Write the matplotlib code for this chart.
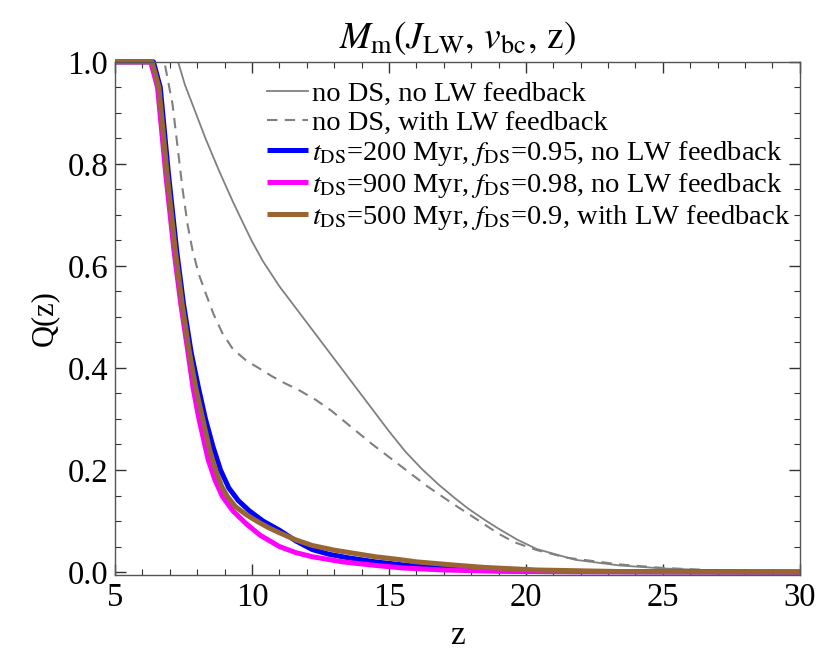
#!/usr/bin/env python3
"""
Q(z) curves for M_m(J_LW, v_bc, z) — with and without dark-star phases
"""

import matplotlib
matplotlib.use('Agg')
import matplotlib.pyplot as plt
from matplotlib.ticker import MultipleLocator, FormatStrFormatter

# ---- font setup (Times-like, like Mathematica) ----
plt.rcParams['font.family'] = ['Liberation Serif', 'DejaVu Serif']
plt.rcParams['mathtext.fontset'] = 'stix'

# ---- data ----
z_nods = [5, 7.3, 7.55, 7.83, 8.3, 8.8, 9.3, 9.7, 10.0, 10.4, 11.0, 12.0,
          13.0, 14.0, 15.0, 15.6, 16.2, 16.8, 17.4, 17.9, 18.5, 19.0, 19.7,
          20.4, 21.8, 23.4, 25, 27, 30]
q_nods = [1, 1, 0.955, 0.916, 0.85, 0.786, 0.726, 0.681, 0.648, 0.609, 0.560,
          0.489, 0.418, 0.347, 0.276, 0.236, 0.202, 0.172, 0.145, 0.124,
          0.102, 0.085, 0.063, 0.045, 0.024, 0.013, 0.007, 0.003, 0.0005]

z_nods_lw = [5, 6.8, 7.1, 7.46, 7.65, 7.83, 8.05, 8.31, 8.6, 8.92, 9.3, 9.8,
             10.3, 10.75, 11.2, 11.7, 12.34, 12.9, 13.4, 14.4, 15.5, 16.4,
             17.3, 18.3, 19.0, 19.6, 20.4, 21.5, 23.4, 25, 27, 30]
q_nods_lw = [1, 1, 0.916, 0.752, 0.68, 0.63, 0.585, 0.546, 0.505, 0.468,
             0.437, 0.414, 0.398, 0.383, 0.370, 0.357, 0.337, 0.316, 0.294,
             0.25, 0.205, 0.168, 0.135, 0.100, 0.075, 0.058, 0.043, 0.028,
             0.015, 0.008, 0.003, 0.0005]

z_blue = [5, 6.4, 6.65, 6.95, 7.25, 7.5, 7.78, 8.05, 8.3, 8.58, 8.85, 9.15,
          9.5, 9.9, 10.4, 11.0, 11.6, 12.2, 12.8, 13.5, 14.5, 15.5, 16.5,
          18, 20, 30]
q_blue = [1, 1, 0.95, 0.78, 0.63, 0.525, 0.43, 0.36, 0.30, 0.245, 0.20,
          0.165, 0.14, 0.12, 0.10, 0.082, 0.061, 0.044, 0.035, 0.028, 0.020,
          0.014, 0.009, 0.004, 0.001, 0]

z_magenta = [5, 6.3, 6.55, 6.85, 7.15, 7.4, 7.65, 7.85, 8.07, 8.4, 8.65,
             8.92, 9.3, 9.78, 10.3, 11.0, 11.6, 12.2, 13.3, 14.5, 15.5, 17,
             19, 22, 30]
q_magenta = [1, 1, 0.95, 0.78, 0.63, 0.525, 0.435, 0.36, 0.298, 0.22, 0.18,
             0.148, 0.12, 0.095, 0.072, 0.05, 0.038, 0.030, 0.02, 0.013, 0.008,
             0.004, 0.0015, 0.0005, 0]

z_brown = [5, 6.35, 6.6, 6.9, 7.2, 7.45, 7.7, 7.95, 8.2, 8.45, 8.7, 8.9, 9.1,
           9.4, 9.8, 10.2, 10.6, 11.0, 11.6, 12.2, 13.0, 13.8, 14.5, 15.3,
           16.0, 17.3, 18.5, 20.4, 23.4, 26, 30]
q_brown = [1, 1, 0.95, 0.78, 0.63, 0.525, 0.435, 0.36, 0.30, 0.24, 0.195,
           0.167, 0.148, 0.128, 0.112, 0.099, 0.087, 0.077, 0.063, 0.052,
           0.043, 0.036, 0.030, 0.025, 0.020, 0.014, 0.009, 0.004, 0.001,
           0.0005, 0]

labels = [
    'no DS, no LW feedback',
    'no DS, with LW feedback',
    r'$t_{\rm DS}$=200 Myr, $f_{\rm DS}$=0.95, no LW feedback',
    r'$t_{\rm DS}$=900 Myr, $f_{\rm DS}$=0.98, no LW feedback',
    r'$t_{\rm DS}$=500 Myr, $f_{\rm DS}$=0.9, with LW feedback',
]

# ---- plot ----
fig = plt.figure(figsize=(8.22, 6.58), dpi=100)
ax = fig.add_axes([0.140, 0.126, 0.833, 0.780])

ax.plot(z_nods, q_nods, color='#808080', lw=1.3, label=labels[0])
ax.plot(z_nods_lw, q_nods_lw, color='#808080', lw=1.5, dashes=(5, 3.5),
        label=labels[1])
ax.plot(z_blue, q_blue, color='#0000FF', lw=3.6, label=labels[2],
        solid_capstyle='butt', clip_on=False)
ax.plot(z_magenta, q_magenta, color='#FF00FF', lw=3.6, label=labels[3],
        solid_capstyle='butt', clip_on=False)
ax.plot(z_brown, q_brown, color='#996633', lw=3.6, label=labels[4],
        solid_capstyle='butt', clip_on=False)

ax.set_xlim(5, 30)
ax.set_ylim(-0.006, 1.0)
ax.xaxis.set_major_locator(MultipleLocator(5))
ax.xaxis.set_minor_locator(MultipleLocator(1))
ax.yaxis.set_major_locator(MultipleLocator(0.2))
ax.yaxis.set_minor_locator(MultipleLocator(0.05))
ax.yaxis.set_major_formatter(FormatStrFormatter('%.1f'))

ax.tick_params(which='both', direction='in', top=True, right=True,
               labelsize=23.5, color='#333333')
ax.tick_params(which='major', length=8, width=1, pad=5)
ax.tick_params(which='minor', length=4, width=0.8)
for sp in ax.spines.values():
    sp.set_color('#555555')
    sp.set_linewidth(1.0)

ax.set_xlabel('z', fontsize=24, labelpad=6)
ax.set_ylabel('Q(z)', fontsize=22, labelpad=6)
ax.set_title(r'$M_{\rm m}(J_{\rm LW},\, v_{\rm bc},\, {\rm z})$',
             fontsize=27, pad=10)

ax.legend(loc='upper left', bbox_to_anchor=(0.222, 0.962), frameon=False,
          fontsize=20.5, borderaxespad=0, borderpad=0, handlelength=1.45,
          handletextpad=0.12, labelspacing=0.1)

fig.savefig('out.png', dpi=100)
plt.close(fig)
